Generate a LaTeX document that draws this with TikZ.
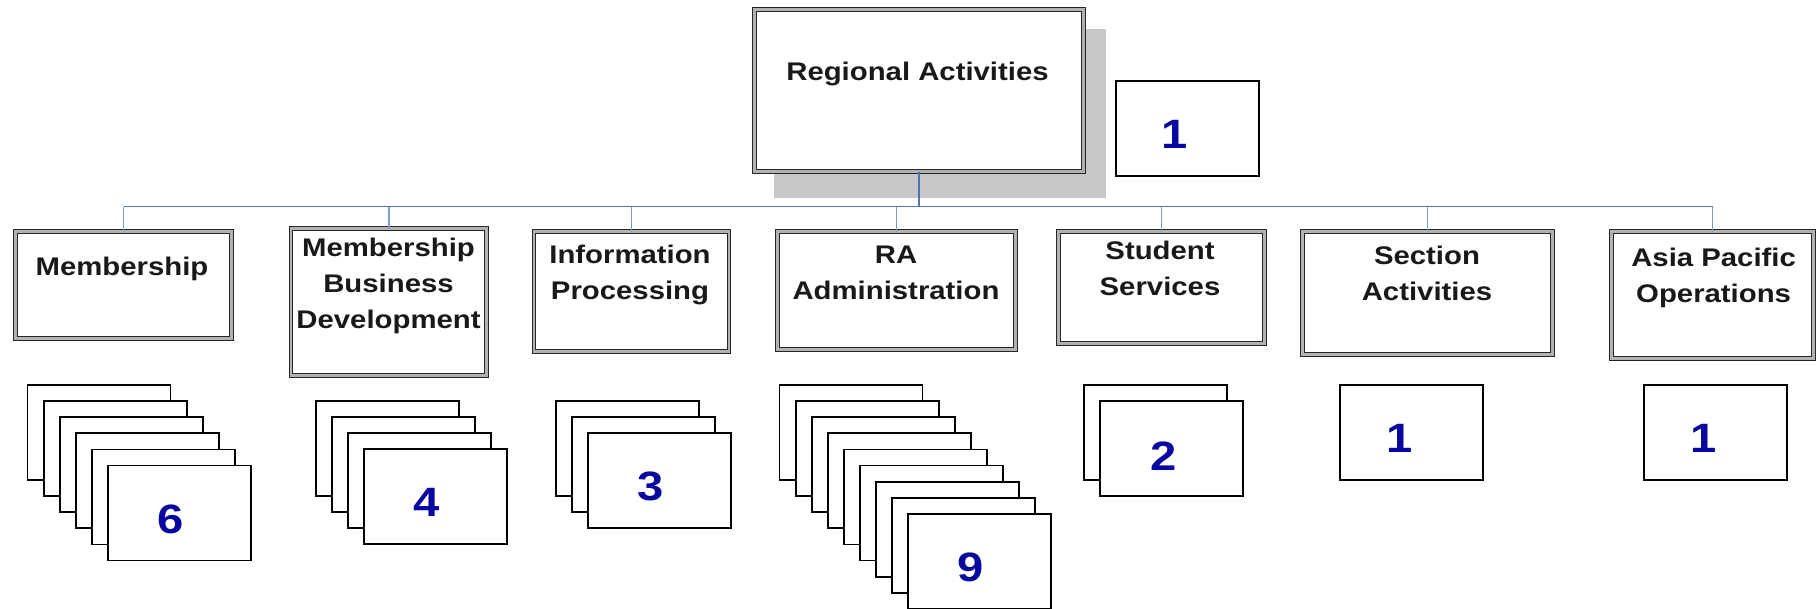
\documentclass[tikz,border=0pt]{standalone}
\usepackage{fontspec}
\usepackage{graphicx}
\setmainfont{Liberation Sans}
\definecolor{numblue}{RGB}{8,8,160}
\definecolor{busblue}{RGB}{80,115,180}
\definecolor{dropblue}{RGB}{130,155,195}
\definecolor{txtdark}{RGB}{25,25,25}
\definecolor{shadowgray}{RGB}{200,200,200}
\newcommand\wtxt[1]{\scalebox{1.15}[1]{\begin{tabular}{@{}c@{}}#1\end{tabular}}}
\newcommand\wnum[1]{\scalebox{1.15}[1]{#1}}
\tikzset{
  orgbox/.style={draw=black!85, double=gray!60, line width=1pt, double distance=2.6pt,
    fill=white, inner sep=0pt, outer sep=0pt, minimum width=#1},
  lbl/.style={inner sep=0pt, text=txtdark, font=\bfseries\fontsize{25.5}{36}\selectfont},
  card/.style={draw=black, line width=1.8pt, fill=white, inner sep=0pt, outer sep=0pt,
    minimum width=143pt, minimum height=95pt, anchor=north west},
  num/.style={inner sep=0pt, text=numblue, font=\bfseries\fontsize{41}{41}\selectfont},
  bus/.style={draw=busblue, line width=1.8pt},
  drop/.style={draw=dropblue, line width=1.8pt},
}
\begin{document}
\begin{tikzpicture}[x=1pt,y=-1pt]
\useasboundingbox (0,0) rectangle (1818,608);
% shadow of the top box
\fill[shadowgray] (774,29) rectangle (1106,198);
% top box
\node[orgbox=329pt, minimum height=162pt] (top) at (919,90.5) {};
\node[lbl] (toplbl) at (917.5,73.5) {\wtxt{Regional Activities}};
% second level boxes
\node[orgbox=216pt, minimum height=107pt] (mem) at (123.5,285) {};
\node[orgbox=195.5pt, minimum height=147pt] (mbd) at (388.75,302) {};
\node[orgbox=195pt, minimum height=120pt] (info) at (631.5,291.5) {};
\node[orgbox=238pt, minimum height=118pt] (ra) at (896.5,290.5) {};
\node[orgbox=206pt, minimum height=112pt] (stu) at (1161.5,287.5) {};
\node[orgbox=250pt, minimum height=123pt] (sec) at (1427.5,293) {};
\node[orgbox=202pt, minimum height=127pt] (asia) at (1712.5,295) {};
% labels
\node[lbl] (memlbl) at (122,268.5) {\wtxt{Membership}};
\node[lbl] (mbdlbl) at (388.5,285.5) {\wtxt{Membership\\Business\\Development}};
\node[lbl] (infolbl) at (630,274) {\wtxt{Information\\Processing}};
\node[lbl] (ralbl) at (896,274) {\wtxt{RA\\Administration}};
\node[lbl] (stulbl) at (1160,270.5) {\wtxt{Student\\Services}};
\node[lbl] (seclbl) at (1427,275.5) {\wtxt{Section\\Activities}};
\node[lbl] (asialbl) at (1713.6,277) {\wtxt{Asia Pacific\\Operations}};
% connectors
\coordinate (busy) at (0,206.5);
\draw[bus] (top.south) -- (top.south |- busy);
\draw[bus] (mem.north |- busy) -- (asia.north |- busy);
\foreach \n in {mem,mbd,info,ra,stu,sec,asia}{
  \draw[drop] (\n.north) -- (\n.north |- busy);
}
% card stacks
\foreach \i in {0,...,5}{ \node[card] (memc\i) at (27.5+16.1*\i,385+16.1*\i) {}; }
\foreach \i in {0,...,3}{ \node[card] (mbdc\i) at (315.7+16.1*\i,401+16.1*\i) {}; }
\foreach \i in {0,...,2}{ \node[card] (infoc\i) at (556+16.1*\i,401+16.1*\i) {}; }
\foreach \i in {0,...,8}{ \node[card] (rac\i) at (779.5+16.1*\i,385+16.1*\i) {}; }
\foreach \i in {0,...,1}{ \node[card] (stuc\i) at (1084+16*\i,385+16*\i) {}; }
\node[card] (secc0) at (1340,385) {};
\node[card] (asiac0) at (1644,385) {};
\node[card] (topc0) at (1116,81) {};
% numbers
\node[num] (n6) at (170.3,519) {\wnum{6}};
\node[num] (n4) at (427,502.5) {\wnum{4}};
\node[num] (n3) at (651,486) {\wnum{3}};
\node[num] (n9) at (971,567) {\wnum{9}};
\node[num] (n2) at (1163.4,456) {\wnum{2}};
\node[num] (n1a) at (1400,438) {\wnum{1}};
\node[num] (n1b) at (1704,438) {\wnum{1}};
\node[num] (n1c) at (1175,134.5) {\wnum{1}};
\end{tikzpicture}
\end{document}
